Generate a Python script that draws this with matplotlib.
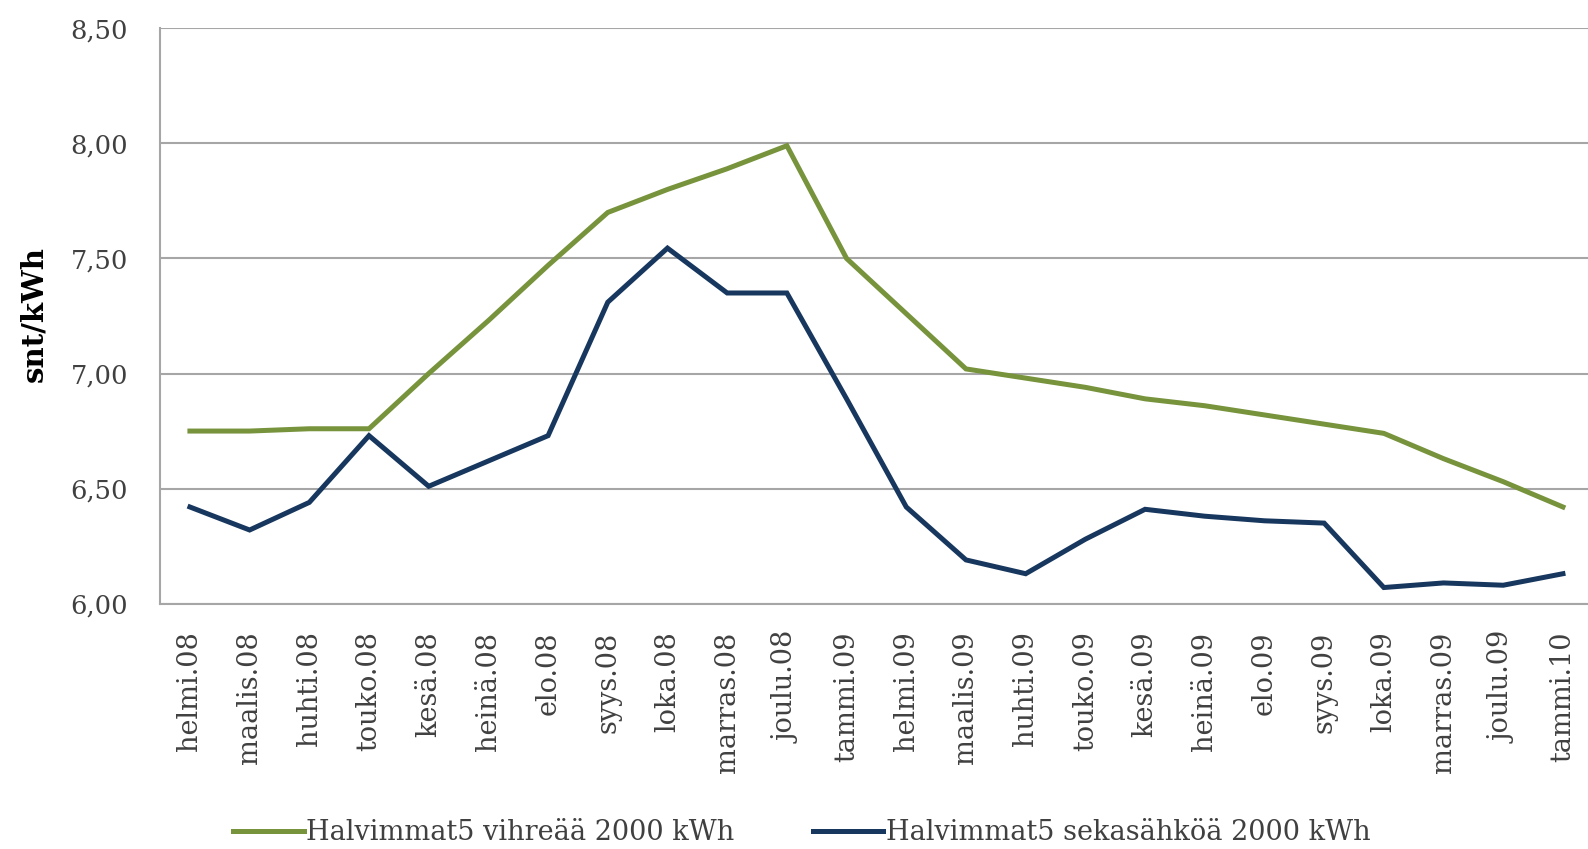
import matplotlib
matplotlib.use("Agg")
import matplotlib.pyplot as plt

months = ["helmi.08", "maalis.08", "huhti.08", "touko.08", "kesä.08", "heinä.08",
          "elo.08", "syys.08", "loka.08", "marras.08", "joulu.08", "tammi.09",
          "helmi.09", "maalis.09", "huhti.09", "touko.09", "kesä.09", "heinä.09",
          "elo.09", "syys.09", "loka.09", "marras.09", "joulu.09", "tammi.10"]

green_vals = [6.75, 6.75, 6.76, 6.76, 7.00, 7.23, 7.47, 7.70, 7.80, 7.89, 7.99, 7.50,
              7.26, 7.02, 6.98, 6.94, 6.89, 6.86, 6.82, 6.78, 6.74, 6.63, 6.53, 6.42]
blue_vals = [6.42, 6.32, 6.44, 6.73, 6.51, 6.62, 6.73, 7.31, 7.545, 7.35, 7.35, 6.89,
             6.42, 6.19, 6.13, 6.28, 6.41, 6.38, 6.36, 6.35, 6.07, 6.09, 6.08, 6.13]

green_label = "Halvimmat5 vihreää 2000 kWh"
blue_label = "Halvimmat5 sekasähköä 2000 kWh"
y_ticks = [6.0, 6.5, 7.0, 7.5, 8.0, 8.5]
y_tick_labels = ["6,00", "6,50", "7,00", "7,50", "8,00", "8,50"]

plt.rcParams['font.family'] = ['DejaVu Serif']

fig = plt.figure(figsize=(15.88, 8.49), dpi=100)
ax = fig.add_axes([0.1008, 0.289, 0.8992, 0.6776])

x = list(range(len(months)))
ax.plot(x, green_vals, color="#77933C", lw=3.6, label=green_label, solid_joinstyle="miter")
ax.plot(x, blue_vals, color="#17375E", lw=3.6, label=blue_label, solid_joinstyle="miter")

ax.set_xlim(-0.5, 23.42)
ax.set_ylim(6.0, 8.5)
ax.set_yticks(y_ticks)
ax.set_yticklabels(y_tick_labels)
ax.set_xticks(x)
ax.set_xticklabels(months, rotation=90)
ax.tick_params(axis="both", length=0, colors="#404040")
ax.tick_params(axis="y", pad=23, labelsize=18.5)
ax.tick_params(axis="x", pad=20, labelsize=19.5)
ax.yaxis.grid(True, color="#A6A6A6", lw=1.5)
ax.set_axisbelow(True)
for s in ["top", "right"]:
    ax.spines[s].set_visible(False)
for s in ["left", "bottom"]:
    ax.spines[s].set_color("#A6A6A6")
    ax.spines[s].set_linewidth(1.5)

fig.text(0.021, 0.63, "snt/kWh", rotation=90, ha="center", va="center",
         fontsize=21, fontweight="bold", color="black")

fig.legend(loc="center", bbox_to_anchor=(0.505, 0.0194), ncol=2, frameon=False,
           fontsize=19.5, handlelength=2.6, handletextpad=0.1, columnspacing=2.9,
           labelcolor="#404040")

fig.savefig("out.png", dpi=100)
